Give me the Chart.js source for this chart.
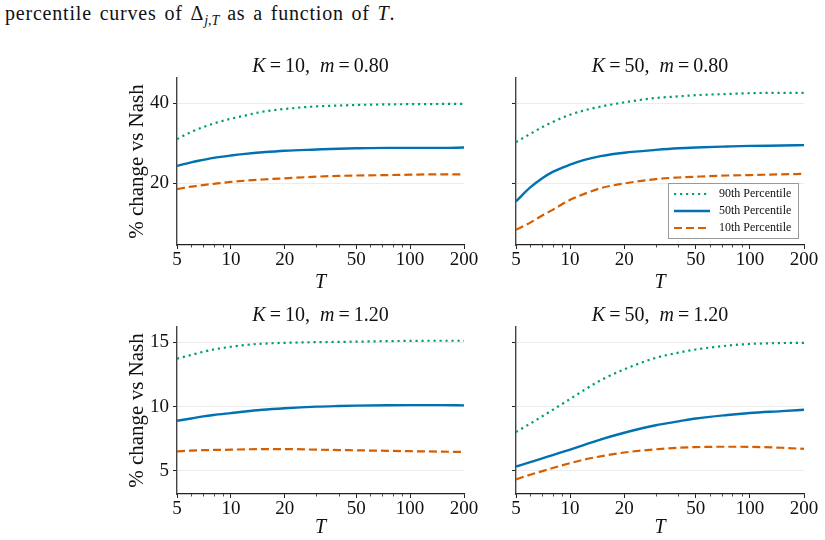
<!DOCTYPE html>
<html>
<head>
<meta charset="utf-8">
<script src="https://cdn.jsdelivr.net/npm/chart.js@4.4.1/dist/chart.umd.min.js"></script>
<style>
  body { margin: 0; background: #fff; width: 825px; height: 540px; position: relative; overflow: hidden; font-family: "Liberation Serif", serif; }
  .cap { position: absolute; left: 5px; top: 2px; font-size: 20px; letter-spacing: 0.8px; word-spacing: 2px; color: #111; white-space: nowrap; }
  .cap sub { font-size: 14px; letter-spacing: 0; }
  .panel { position: absolute; }
</style>
</head>
<body>
<div class="cap">percentile curves of Δ<sub><i>j</i>,<i>T</i></sub> as a function of <i>T</i>.</div>
<div class="panel" style="left:120px;top:50px"><canvas id="c0" width="360" height="245"></canvas></div>
<div class="panel" style="left:480px;top:50px"><canvas id="c1" width="340" height="245"></canvas></div>
<div class="panel" style="left:120px;top:295px"><canvas id="c2" width="360" height="245"></canvas></div>
<div class="panel" style="left:480px;top:295px"><canvas id="c3" width="340" height="245"></canvas></div>
<script>
// horizon T (log axis)
const T = [5, 6, 7, 8, 10, 12, 15, 20, 30, 40, 50, 75, 100, 150, 200];
const xTicks = [5, 10, 20, 50, 100, 200];
const xMinor = [6, 7, 8, 9, 30, 40, 60, 70, 80, 90];
const seriesNames = ['90th Percentile', '50th Percentile', '10th Percentile'];

// K=10, m=0.80
const p90_k10_m080 = [31.0, 32.8, 34.0, 34.9, 36.1, 36.9, 37.85, 38.55, 39.2, 39.4, 39.55, 39.7, 39.75, 39.8, 39.85];
const p50_k10_m080 = [24.3, 25.2, 25.8, 26.3, 26.9, 27.3, 27.7, 28.1, 28.4, 28.6, 28.7, 28.8, 28.8, 28.8, 28.9];
const p10_k10_m080 = [18.5, 19.1, 19.5, 19.8, 20.3, 20.6, 20.9, 21.2, 21.6, 21.8, 21.9, 22.0, 22.1, 22.2, 22.2];
// K=50, m=0.80
const p90_k50_m080 = [30.25, 32.3, 34.0, 35.3, 37.1, 38.2, 39.2, 40.2, 41.3, 41.7, 42.0, 42.3, 42.5, 42.6, 42.6];
const p50_k50_m080 = [15.4, 18.9, 21.2, 22.8, 24.6, 25.8, 26.8, 27.6, 28.3, 28.7, 28.9, 29.15, 29.3, 29.4, 29.5];
const p10_k50_m080 = [8.33, 10.1, 11.9, 13.3, 15.8, 17.3, 18.8, 19.9, 21.0, 21.4, 21.6, 21.9, 22.0, 22.2, 22.3];
// K=10, m=1.20
const p90_k10_m120 = [13.74, 14.02, 14.27, 14.45, 14.66, 14.8, 14.9, 14.97, 15.02, 15.04, 15.06, 15.1, 15.12, 15.13, 15.13];
const p50_k10_m120 = [8.9, 9.08, 9.24, 9.35, 9.5, 9.62, 9.76, 9.88, 10.0, 10.05, 10.08, 10.11, 10.12, 10.12, 10.1];
const p10_k10_m120 = [6.52, 6.58, 6.61, 6.63, 6.65, 6.68, 6.69, 6.7, 6.65, 6.62, 6.6, 6.56, 6.53, 6.5, 6.47];
// K=50, m=1.20
const p90_k50_m120 = [8.03, 8.68, 9.25, 9.75, 10.6, 11.3, 12.1, 12.9, 13.8, 14.2, 14.45, 14.75, 14.88, 14.95, 14.97];
const p50_k50_m120 = [5.34, 5.68, 5.97, 6.23, 6.66, 7.02, 7.47, 7.97, 8.55, 8.85, 9.08, 9.35, 9.5, 9.65, 9.76];
const p10_k50_m120 = [4.34, 4.7, 4.98, 5.22, 5.6, 5.88, 6.15, 6.43, 6.68, 6.8, 6.85, 6.88, 6.87, 6.8, 6.71];

const yTicksTop = [20, 40];
const yTicksBottom = [5, 10, 15];

const serif = '"Liberation Serif", serif';
const colors = ['#009E73', '#0072B2', '#D55E00'];
const dashes = [[2.2, 3.8], [], [8, 4]];

// panel title with italic K and m, minor log ticks, legend box
const panelExtras = {
  id: 'panelExtras',
  afterDraw(chart, args, opts) {
    const ctx = chart.ctx;
    const area = chart.chartArea;
    ctx.save();
    // title
    const parts = [['K', true], ['\u2009=\u2009' + opts.k + ',  ', false], ['m', true], ['\u2009=\u2009' + opts.m, false]];
    let total = 0;
    parts.forEach(p => {
      ctx.font = (p[1] ? 'italic ' : '') + '20px ' + serif;
      p.w = ctx.measureText(p[0]).width;
      total += p.w;
    });
    let x = (area.left + area.right) / 2 - total / 2;
    ctx.fillStyle = '#111';
    ctx.textBaseline = 'middle';
    parts.forEach(p => {
      ctx.font = (p[1] ? 'italic ' : '') + '20px ' + serif;
      ctx.fillText(p[0], x, area.top - 11);
      x += p.w;
    });
    // minor ticks on log x axis
    const xs = chart.scales.x;
    ctx.strokeStyle = '#222';
    ctx.lineWidth = 0.8;
    xMinor.forEach(v => {
      const px = Math.round(xs.getPixelForValue(v)) + 0.5;
      ctx.beginPath();
      ctx.moveTo(px, area.bottom);
      ctx.lineTo(px, area.bottom + 2.5);
      ctx.stroke();
    });
    // legend
    if (opts.legend) {
      const w = 130, h = 55;
      const bx = area.right - 6 - w, by = area.bottom - 7 - h;
      ctx.fillStyle = 'rgba(255,255,255,0.85)';
      ctx.fillRect(bx, by, w, h);
      ctx.strokeStyle = '#999';
      ctx.lineWidth = 1;
      ctx.strokeRect(bx + 0.5, by + 0.5, w, h);
      chart.data.datasets.forEach((ds, i) => {
        const ly = by + 11 + i * 17;
        ctx.strokeStyle = ds.borderColor;
        ctx.lineWidth = ds.borderWidth;
        ctx.setLineDash(ds.borderDash);
        ctx.beginPath();
        ctx.moveTo(bx + 6, ly);
        ctx.lineTo(bx + 42, ly);
        ctx.stroke();
        ctx.setLineDash([]);
        ctx.fillStyle = '#111';
        ctx.font = '12px ' + serif;
        ctx.textBaseline = 'middle';
        ctx.fillText(ds.label, bx + 51, ly);
      });
    }
    ctx.restore();
  }
};

function makePanel(id, k, m, series, yMin, yMax, yTicks, showY, legend, padTop) {
  const yWidth = showY ? 57 : 36;
  new Chart(document.getElementById(id), {
    type: 'line',
    data: {
      labels: T,
      datasets: series.map((s, i) => ({
        label: seriesNames[i],
        data: T.map((t, j) => ({ x: t, y: s[j] })),
        borderColor: colors[i],
        borderWidth: i === 1 ? 2.4 : 2.2,
        borderDash: dashes[i],
        borderCapStyle: 'butt',
        pointRadius: 0,
        cubicInterpolationMode: 'monotone'
      }))
    },
    options: {
      responsive: false,
      animation: false,
      layout: { padding: { top: padTop, right: 16, left: 0, bottom: 0 } },
      plugins: {
        legend: { display: false },
        tooltip: { enabled: false },
        panelExtras: { k, m, legend }
      },
      scales: {
        x: {
          type: 'logarithmic',
          min: 5, max: 200,
          afterBuildTicks: s => { s.ticks = xTicks.map(v => ({ value: v })); },
          afterFit: s => { s.height = 245 - padTop - 167; },
          ticks: { color: '#111', font: { family: serif, size: 19 }, padding: 0, maxRotation: 0, autoSkip: false, callback: v => String(v) },
          grid: { display: true, drawOnChartArea: false, tickLength: 4, tickColor: '#222' },
          border: { color: '#222', width: 1.2 },
          title: { display: true, text: 'T', color: '#111', font: { family: serif, size: 20, style: 'italic' }, padding: { top: 0, bottom: 0 } }
        },
        y: {
          min: yMin, max: yMax,
          afterBuildTicks: s => { s.ticks = yTicks.map(v => ({ value: v })); },
          afterFit: s => { s.width = yWidth; },
          ticks: { display: showY, color: '#111', font: { family: serif, size: 19 }, padding: 4, callback: v => String(v) },
          grid: { color: '#ececec', lineWidth: 1, tickColor: '#222', tickLength: 4 },
          border: { color: '#444', width: 1.4 },
          title: { display: showY, text: '% change vs Nash', color: '#111', font: { family: serif, size: 21 }, padding: { top: 5, bottom: 0 } }
        }
      }
    },
    plugins: [panelExtras]
  });
}

makePanel('c0', '10', '0.80', [p90_k10_m080, p50_k10_m080, p10_k10_m080], 4.5, 46.3, yTicksTop, true, false, 28);
makePanel('c1', '50', '0.80', [p90_k50_m080, p50_k50_m080, p10_k50_m080], 4.5, 46.3, yTicksTop, false, true, 28);
makePanel('c2', '10', '1.20', [p90_k10_m120, p50_k10_m120, p10_k10_m120], 3.2, 16.2, yTicksBottom, true, false, 32);
makePanel('c3', '50', '1.20', [p90_k50_m120, p50_k50_m120, p10_k50_m120], 3.2, 16.2, yTicksBottom, false, false, 32);
</script>
</body>
</html>
